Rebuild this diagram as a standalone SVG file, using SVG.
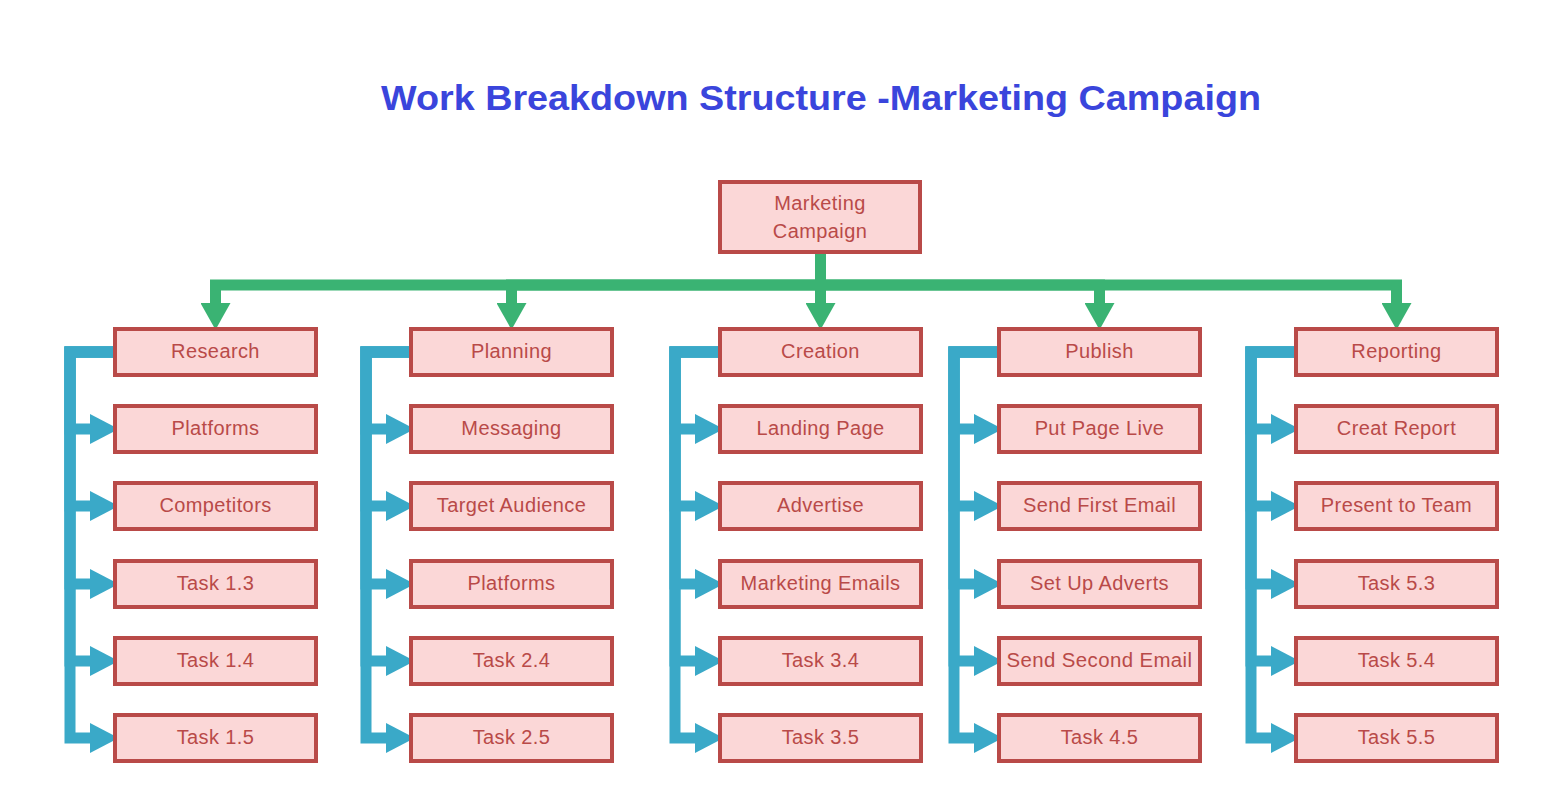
<svg xmlns="http://www.w3.org/2000/svg" width="1545" height="810" viewBox="0 0 1545 810">
<style>
.box{fill:#fbd7d7;stroke:#b94a48;stroke-width:4}
.lbl{font-family:"Liberation Sans",Arial,sans-serif;font-size:20px;fill:#b94a48;text-anchor:middle;dominant-baseline:central;letter-spacing:0.4px}
.g{fill:none;stroke:#3ab373;stroke-width:11}
.b{fill:none;stroke:#3aa9c8;stroke-width:11}
.title{font-family:"Liberation Sans",Arial,sans-serif;font-size:35px;font-weight:bold;fill:#3a45dc;text-anchor:middle}
</style>
<defs>
<marker id="ag" markerUnits="userSpaceOnUse" markerWidth="30" markerHeight="30" refX="0" refY="13.5" orient="auto" viewBox="0 0 24 27"><path d="M0,0 L24,13.5 L0,27 Z" fill="#3ab373"/></marker>
<marker id="ab" markerUnits="userSpaceOnUse" markerWidth="30" markerHeight="30" refX="0" refY="12" orient="auto" viewBox="0 0 23 24"><path d="M0,0 L23,12 L0,24 Z" fill="#3aa9c8"/></marker>
</defs>
<rect width="1545" height="810" fill="#ffffff"/>
<text class="title" x="821" y="110" textLength="880" lengthAdjust="spacingAndGlyphs">Work Breakdown Structure -Marketing Campaign</text>
<g id="connectors">
<path class="g" d="M820.5,253 V285 H215.5 V303" marker-end="url(#ag)"/>
<path class="g" d="M820.5,253 V285 H511.5 V303" marker-end="url(#ag)"/>
<path class="g" d="M820.5,253 V303" marker-end="url(#ag)"/>
<path class="g" d="M820.5,253 V285 H1099.5 V303" marker-end="url(#ag)"/>
<path class="g" d="M820.5,253 V285 H1396.5 V303" marker-end="url(#ag)"/>
<path class="b" d="M113,352 H70 V429 H90" marker-end="url(#ab)"/>
<path class="b" d="M113,352 H70 V506 H90" marker-end="url(#ab)"/>
<path class="b" d="M113,352 H70 V584 H90" marker-end="url(#ab)"/>
<path class="b" d="M113,352 H70 V661 H90" marker-end="url(#ab)"/>
<path class="b" d="M113,352 H70 V738 H90" marker-end="url(#ab)"/>
<path class="b" d="M409,352 H366 V429 H386" marker-end="url(#ab)"/>
<path class="b" d="M409,352 H366 V506 H386" marker-end="url(#ab)"/>
<path class="b" d="M409,352 H366 V584 H386" marker-end="url(#ab)"/>
<path class="b" d="M409,352 H366 V661 H386" marker-end="url(#ab)"/>
<path class="b" d="M409,352 H366 V738 H386" marker-end="url(#ab)"/>
<path class="b" d="M718,352 H675 V429 H695" marker-end="url(#ab)"/>
<path class="b" d="M718,352 H675 V506 H695" marker-end="url(#ab)"/>
<path class="b" d="M718,352 H675 V584 H695" marker-end="url(#ab)"/>
<path class="b" d="M718,352 H675 V661 H695" marker-end="url(#ab)"/>
<path class="b" d="M718,352 H675 V738 H695" marker-end="url(#ab)"/>
<path class="b" d="M997,352 H954 V429 H974" marker-end="url(#ab)"/>
<path class="b" d="M997,352 H954 V506 H974" marker-end="url(#ab)"/>
<path class="b" d="M997,352 H954 V584 H974" marker-end="url(#ab)"/>
<path class="b" d="M997,352 H954 V661 H974" marker-end="url(#ab)"/>
<path class="b" d="M997,352 H954 V738 H974" marker-end="url(#ab)"/>
<path class="b" d="M1294,352 H1251 V429 H1271" marker-end="url(#ab)"/>
<path class="b" d="M1294,352 H1251 V506 H1271" marker-end="url(#ab)"/>
<path class="b" d="M1294,352 H1251 V584 H1271" marker-end="url(#ab)"/>
<path class="b" d="M1294,352 H1251 V661 H1271" marker-end="url(#ab)"/>
<path class="b" d="M1294,352 H1251 V738 H1271" marker-end="url(#ab)"/>
</g>
<g id="root"><rect class="box" x="720" y="182" width="200" height="70"/><text class="lbl" x="820" y="203">Marketing</text><text class="lbl" x="820" y="231">Campaign</text></g>

<g id="research"><rect class="box" x="115" y="329" width="201" height="46"/><text class="lbl" x="215.5" y="351">Research</text></g>
<g id="r1"><rect class="box" x="115" y="406" width="201" height="46"/><text class="lbl" x="215.5" y="428">Platforms</text></g>
<g id="r2"><rect class="box" x="115" y="483" width="201" height="46"/><text class="lbl" x="215.5" y="505">Competitors</text></g>
<g id="r3"><rect class="box" x="115" y="561" width="201" height="46"/><text class="lbl" x="215.5" y="583">Task 1.3</text></g>
<g id="r4"><rect class="box" x="115" y="638" width="201" height="46"/><text class="lbl" x="215.5" y="660">Task 1.4</text></g>
<g id="r5"><rect class="box" x="115" y="715" width="201" height="46"/><text class="lbl" x="215.5" y="737">Task 1.5</text></g>

<g id="planning"><rect class="box" x="411" y="329" width="201" height="46"/><text class="lbl" x="511.5" y="351">Planning</text></g>
<g id="p1"><rect class="box" x="411" y="406" width="201" height="46"/><text class="lbl" x="511.5" y="428">Messaging</text></g>
<g id="p2"><rect class="box" x="411" y="483" width="201" height="46"/><text class="lbl" x="511.5" y="505">Target Audience</text></g>
<g id="p3"><rect class="box" x="411" y="561" width="201" height="46"/><text class="lbl" x="511.5" y="583">Platforms</text></g>
<g id="p4"><rect class="box" x="411" y="638" width="201" height="46"/><text class="lbl" x="511.5" y="660">Task 2.4</text></g>
<g id="p5"><rect class="box" x="411" y="715" width="201" height="46"/><text class="lbl" x="511.5" y="737">Task 2.5</text></g>

<g id="creation"><rect class="box" x="720" y="329" width="201" height="46"/><text class="lbl" x="820.5" y="351">Creation</text></g>
<g id="c1"><rect class="box" x="720" y="406" width="201" height="46"/><text class="lbl" x="820.5" y="428">Landing Page</text></g>
<g id="c2"><rect class="box" x="720" y="483" width="201" height="46"/><text class="lbl" x="820.5" y="505">Advertise</text></g>
<g id="c3"><rect class="box" x="720" y="561" width="201" height="46"/><text class="lbl" x="820.5" y="583">Marketing Emails</text></g>
<g id="c4"><rect class="box" x="720" y="638" width="201" height="46"/><text class="lbl" x="820.5" y="660">Task 3.4</text></g>
<g id="c5"><rect class="box" x="720" y="715" width="201" height="46"/><text class="lbl" x="820.5" y="737">Task 3.5</text></g>

<g id="publish"><rect class="box" x="999" y="329" width="201" height="46"/><text class="lbl" x="1099.5" y="351">Publish</text></g>
<g id="u1"><rect class="box" x="999" y="406" width="201" height="46"/><text class="lbl" x="1099.5" y="428">Put Page Live</text></g>
<g id="u2"><rect class="box" x="999" y="483" width="201" height="46"/><text class="lbl" x="1099.5" y="505">Send First Email</text></g>
<g id="u3"><rect class="box" x="999" y="561" width="201" height="46"/><text class="lbl" x="1099.5" y="583">Set Up Adverts</text></g>
<g id="u4"><rect class="box" x="999" y="638" width="201" height="46"/><text class="lbl" x="1099.5" y="660" textLength="186" lengthAdjust="spacingAndGlyphs">Send Second Email</text></g>
<g id="u5"><rect class="box" x="999" y="715" width="201" height="46"/><text class="lbl" x="1099.5" y="737">Task 4.5</text></g>

<g id="reporting"><rect class="box" x="1296" y="329" width="201" height="46"/><text class="lbl" x="1396.5" y="351">Reporting</text></g>
<g id="e1"><rect class="box" x="1296" y="406" width="201" height="46"/><text class="lbl" x="1396.5" y="428">Creat Report</text></g>
<g id="e2"><rect class="box" x="1296" y="483" width="201" height="46"/><text class="lbl" x="1396.5" y="505">Present to Team</text></g>
<g id="e3"><rect class="box" x="1296" y="561" width="201" height="46"/><text class="lbl" x="1396.5" y="583">Task 5.3</text></g>
<g id="e4"><rect class="box" x="1296" y="638" width="201" height="46"/><text class="lbl" x="1396.5" y="660">Task 5.4</text></g>
<g id="e5"><rect class="box" x="1296" y="715" width="201" height="46"/><text class="lbl" x="1396.5" y="737">Task 5.5</text></g>
</svg>
